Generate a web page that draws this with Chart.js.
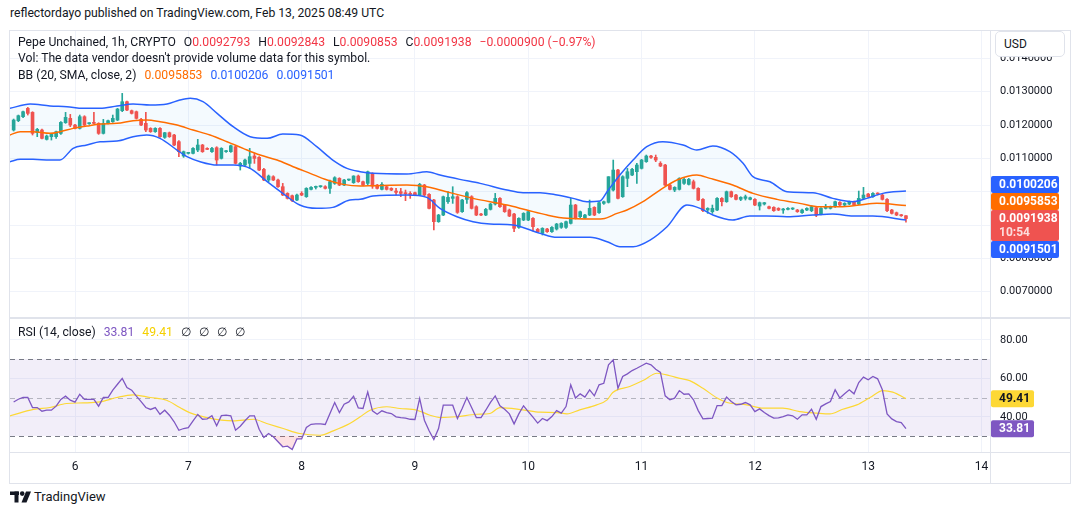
<!DOCTYPE html>
<html>
<head>
<meta charset="utf-8">
<script src="https://cdn.jsdelivr.net/npm/chart.js@4.4.1/dist/chart.umd.min.js"></script>
<style>
  html, body { margin: 0; padding: 0; background: #fff; }
  body { width: 1080px; height: 515px; position: relative; overflow: hidden;
         font-family: Roboto, "Noto Sans", sans-serif; color: #131722; }
  .abs { position: absolute; }
  .row { position: absolute; left: 18px; display: flex; gap: 8px; font-size: 12.2px; white-space: pre; line-height: 16px; }
  .red { color: #f23645; }
  .line { position: absolute; background: #e0e3eb; }
</style>
</head>
<body>

<div class="abs" style="left:0;top:30px;width:1080px;height:288px"><canvas id="price"></canvas></div>
<div class="abs" style="left:0;top:318px;width:1080px;height:165px"><canvas id="rsi"></canvas></div>

<!-- frame -->
<div class="line" style="left:9px;top:30px;width:1062px;height:1px"></div>
<div class="line" style="left:9px;top:30px;width:1px;height:453px"></div>
<div class="line" style="left:1070px;top:30px;width:1px;height:453px"></div>
<div class="line" style="left:9px;top:483px;width:1062px;height:1px"></div>
<div class="line" style="left:9px;top:317px;width:1062px;height:2px"></div>
<div class="line" style="left:9px;top:452px;width:1062px;height:1px"></div>
<div class="line" style="left:990px;top:30px;width:1px;height:453px"></div>

<div class="abs" style="left:10px;top:6px;font-size:12.2px">reflectordayo published on TradingView.com, Feb 13, 2025 08:49 UTC</div>

<div class="row" style="top:34px">
  <span>Pepe Unchained, 1h, CRYPTO</span>
  <span>O<span class="red">0.0092793</span></span>
  <span>H<span class="red">0.0092843</span></span>
  <span>L<span class="red">0.0090853</span></span>
  <span>C<span class="red">0.0091938</span></span>
  <span class="red">−0.0000900 (−0.97%)</span>
</div>
<div class="row" style="top:50px"><span>Vol: The data vendor doesn't provide volume data for this symbol.</span></div>
<div class="row" style="top:67px">
  <span>BB (20, SMA, close, 2)</span>
  <span style="color:#ff6d00">0.0095853</span>
  <span style="color:#2962ff">0.0100206</span>
  <span style="color:#2962ff">0.0091501</span>
</div>
<div class="row" style="top:324px">
  <span>RSI (14, close)</span>
  <span style="color:#7e57c2">33.81</span>
  <span style="color:#f5d000">49.41</span>
  <span>∅</span><span>∅</span><span>∅</span><span>∅</span>
</div>

<div class="abs" style="left:995px;top:31px;width:70px;height:26px;border:1px solid #e0e3eb;border-radius:5px;background:#fff;box-sizing:border-box;font-size:12px;line-height:24px;padding-left:8px">USD</div>

<div class="abs" style="left:10px;top:489px;display:flex;align-items:center;gap:3px">
  <svg width="21" height="12" viewBox="0 0 21 12">
    <rect x="0" y="0.5" width="9" height="3.5" fill="#131722"/>
    <rect x="4.5" y="0.5" width="4" height="11" fill="#131722"/>
    <circle cx="12.2" cy="2.6" r="2.3" fill="#131722"/>
    <polygon points="16,0.5 21,0.5 16.5,11.5 11.5,11.5" fill="#131722"/>
  </svg>
  <span style="font-size:13px">TradingView</span>
</div>

<script>
// one candle per hour, hours counted from Feb 6 00:00
const firstHour = -13;

const open = [
  0.01185, 0.01213, 0.01225, 0.01250, 0.01238, 0.01177, 0.01185, 0.01157, 0.01165, 0.01165,
  0.01175, 0.01207, 0.01220, 0.01200, 0.01190, 0.01225, 0.01204, 0.01207, 0.01205, 0.01175,
  0.01205, 0.01210, 0.01215, 0.01243, 0.01270, 0.01243, 0.01240, 0.01217, 0.01205, 0.01190,
  0.01180, 0.01190, 0.01163, 0.01177, 0.01170, 0.01150, 0.01107, 0.01115, 0.01115, 0.01125,
  0.01140, 0.01130, 0.01120, 0.01132, 0.01100, 0.01120, 0.01120, 0.01135, 0.01077, 0.01080,
  0.01085, 0.01107, 0.01103, 0.01067, 0.01035, 0.01045, 0.01035, 0.01015, 0.00995, 0.00988,
  0.00975, 0.00995, 0.00985, 0.01007, 0.01013, 0.01015, 0.01015, 0.01010, 0.01025, 0.01040,
  0.01020, 0.01035, 0.01027, 0.01047, 0.01030, 0.01025, 0.01055, 0.01020, 0.01007, 0.01015,
  0.01010, 0.01002, 0.01000, 0.00996, 0.00995, 0.00997, 0.00990, 0.01020, 0.00992, 0.00975,
  0.00910, 0.00930, 0.00970, 0.00980, 0.00985, 0.00940, 0.00977, 0.00985, 0.00955, 0.00933,
  0.00930, 0.00947, 0.00963, 0.00980, 0.00960, 0.00945, 0.00933, 0.00893, 0.00915, 0.00915,
  0.00920, 0.00887, 0.00875, 0.00888, 0.00880, 0.00888, 0.00893, 0.00893, 0.00905, 0.00960,
  0.00925, 0.00922, 0.00930, 0.00953, 0.00937, 0.00965, 0.00968, 0.01005, 0.01065, 0.00985,
  0.01040, 0.01050, 0.01060, 0.01070, 0.01090, 0.01107, 0.01103, 0.01085, 0.01080, 0.01020,
  0.01005, 0.01007, 0.01025, 0.01022, 0.01030, 0.01010, 0.00977, 0.00945, 0.00940, 0.00945,
  0.00980, 0.00970, 0.01000, 0.00990, 0.00977, 0.00980, 0.00977, 0.00977, 0.00957, 0.00963,
  0.00955, 0.00953, 0.00950, 0.00945, 0.00947, 0.00948, 0.00945, 0.00937, 0.00945, 0.00943,
  0.00952, 0.00933, 0.00950, 0.00950, 0.00955, 0.00968, 0.00960, 0.00963, 0.00970, 0.00963,
  0.00980, 0.00993, 0.00985, 0.00995, 0.00990, 0.00977, 0.00945, 0.00937, 0.00930, 0.0092793
];
const high = [
  0.01218, 0.01230, 0.01242, 0.01253, 0.01240, 0.01190, 0.01188, 0.01170, 0.01175, 0.01182,
  0.01210, 0.01238, 0.01232, 0.01202, 0.01230, 0.01228, 0.01207, 0.01238, 0.01207, 0.01217,
  0.01215, 0.01230, 0.01250, 0.01295, 0.01272, 0.01245, 0.01242, 0.01220, 0.01238, 0.01192,
  0.01192, 0.01192, 0.01178, 0.01179, 0.01172, 0.01153, 0.01122, 0.01118, 0.01132, 0.01157,
  0.01142, 0.01132, 0.01133, 0.01135, 0.01132, 0.01124, 0.01140, 0.01137, 0.01088, 0.01098,
  0.01130, 0.01115, 0.01105, 0.01070, 0.01050, 0.01048, 0.01038, 0.01025, 0.00997, 0.00990,
  0.00993, 0.01000, 0.01012, 0.01015, 0.01017, 0.01018, 0.01018, 0.01035, 0.01045, 0.01042,
  0.01037, 0.01038, 0.01048, 0.01050, 0.01032, 0.01062, 0.01057, 0.01022, 0.01027, 0.01017,
  0.01012, 0.01010, 0.01010, 0.01005, 0.01000, 0.00999, 0.01025, 0.01022, 0.00994, 0.00977,
  0.00932, 0.00987, 0.01000, 0.01015, 0.00988, 0.00977, 0.01000, 0.00988, 0.00958, 0.00935,
  0.00950, 0.00965, 0.00995, 0.00982, 0.00962, 0.00948, 0.00935, 0.00922, 0.00937, 0.00942,
  0.00922, 0.00890, 0.00892, 0.00890, 0.00895, 0.00905, 0.00907, 0.00912, 0.00980, 0.00962,
  0.00942, 0.00932, 0.00975, 0.00955, 0.00970, 0.00972, 0.01045, 0.01095, 0.01067, 0.01048,
  0.01070, 0.01070, 0.01085, 0.01097, 0.01110, 0.01109, 0.01110, 0.01090, 0.01082, 0.01022,
  0.01015, 0.01042, 0.01040, 0.01040, 0.01035, 0.01012, 0.00979, 0.00952, 0.00960, 0.00982,
  0.00982, 0.01002, 0.01002, 0.00992, 0.00985, 0.00990, 0.00984, 0.00979, 0.00969, 0.00968,
  0.00957, 0.00955, 0.00952, 0.00950, 0.00952, 0.00952, 0.00947, 0.00948, 0.00952, 0.00958,
  0.00954, 0.00952, 0.00962, 0.00957, 0.00972, 0.00970, 0.00967, 0.00972, 0.00972, 0.01002,
  0.01013, 0.00995, 0.00997, 0.00997, 0.00992, 0.00979, 0.00947, 0.00939, 0.00932, 0.0092843
];
const low = [
  0.01182, 0.01210, 0.01222, 0.01230, 0.01170, 0.01165, 0.01158, 0.01155, 0.01155, 0.01160,
  0.01172, 0.01205, 0.01195, 0.01188, 0.01188, 0.01198, 0.01202, 0.01203, 0.01172, 0.01173,
  0.01203, 0.01208, 0.01213, 0.01240, 0.01243, 0.01233, 0.01218, 0.01198, 0.01180, 0.01178,
  0.01178, 0.01163, 0.01160, 0.01163, 0.01138, 0.01105, 0.01103, 0.01113, 0.01113, 0.01120,
  0.01118, 0.01126, 0.01118, 0.01080, 0.01098, 0.01118, 0.01118, 0.01083, 0.01065, 0.01078,
  0.01070, 0.01085, 0.01063, 0.01033, 0.01030, 0.01033, 0.01013, 0.00988, 0.00978, 0.00970,
  0.00973, 0.00988, 0.00983, 0.01005, 0.01008, 0.01013, 0.01008, 0.00995, 0.01022, 0.01018,
  0.01018, 0.01033, 0.01025, 0.01028, 0.01018, 0.01020, 0.01010, 0.01008, 0.01005, 0.01005,
  0.01003, 0.00990, 0.00985, 0.00973, 0.00980, 0.00988, 0.00988, 0.00988, 0.00948, 0.00885,
  0.00908, 0.00928, 0.00965, 0.00965, 0.00935, 0.00938, 0.00965, 0.00948, 0.00928, 0.00928,
  0.00928, 0.00945, 0.00960, 0.00953, 0.00938, 0.00925, 0.00880, 0.00890, 0.00913, 0.00913,
  0.00882, 0.00878, 0.00870, 0.00878, 0.00878, 0.00885, 0.00890, 0.00890, 0.00903, 0.00918,
  0.00922, 0.00920, 0.00928, 0.00928, 0.00935, 0.00962, 0.00966, 0.01002, 0.00978, 0.00983,
  0.01015, 0.01048, 0.01025, 0.01068, 0.01088, 0.01100, 0.01090, 0.01075, 0.01018, 0.01005,
  0.01000, 0.01005, 0.01022, 0.01020, 0.01008, 0.00973, 0.00940, 0.00935, 0.00935, 0.00943,
  0.00957, 0.00968, 0.00983, 0.00975, 0.00973, 0.00975, 0.00975, 0.00958, 0.00945, 0.00960,
  0.00948, 0.00941, 0.00943, 0.00935, 0.00945, 0.00946, 0.00938, 0.00935, 0.00943, 0.00940,
  0.00925, 0.00930, 0.00948, 0.00948, 0.00953, 0.00958, 0.00958, 0.00961, 0.00958, 0.00961,
  0.00978, 0.00983, 0.00983, 0.00990, 0.00975, 0.00940, 0.00933, 0.00928, 0.00926, 0.0090853
];
const close = [
  0.01215, 0.01228, 0.01240, 0.01235, 0.01175, 0.01187, 0.01160, 0.01167, 0.01172, 0.01180,
  0.01208, 0.01223, 0.01200, 0.01190, 0.01225, 0.01200, 0.01205, 0.01205, 0.01175, 0.01205,
  0.01213, 0.01220, 0.01248, 0.01270, 0.01245, 0.01235, 0.01220, 0.01200, 0.01185, 0.01180,
  0.01190, 0.01165, 0.01177, 0.01165, 0.01140, 0.01120, 0.01120, 0.01117, 0.01130, 0.01140,
  0.01120, 0.01127, 0.01130, 0.01095, 0.01130, 0.01122, 0.01138, 0.01085, 0.01085, 0.01095,
  0.01105, 0.01100, 0.01065, 0.01035, 0.01047, 0.01035, 0.01015, 0.00990, 0.00980, 0.00973,
  0.00990, 0.00990, 0.01010, 0.01013, 0.01015, 0.01017, 0.01010, 0.01030, 0.01042, 0.01020,
  0.01035, 0.01037, 0.01047, 0.01030, 0.01020, 0.01060, 0.01017, 0.01010, 0.01022, 0.01007,
  0.01005, 0.00998, 0.00995, 0.00994, 0.00992, 0.00990, 0.01022, 0.00990, 0.00950, 0.00910,
  0.00930, 0.00985, 0.00983, 0.00985, 0.00938, 0.00975, 0.00997, 0.00950, 0.00930, 0.00930,
  0.00947, 0.00963, 0.00980, 0.00955, 0.00940, 0.00927, 0.00890, 0.00920, 0.00935, 0.00940,
  0.00895, 0.00880, 0.00890, 0.00880, 0.00893, 0.00903, 0.00905, 0.00910, 0.00960, 0.00920,
  0.00940, 0.00930, 0.00950, 0.00930, 0.00967, 0.00970, 0.01045, 0.01065, 0.00980, 0.01045,
  0.01060, 0.01067, 0.01080, 0.01095, 0.01107, 0.01103, 0.01095, 0.01077, 0.01020, 0.01007,
  0.01013, 0.01040, 0.01037, 0.01037, 0.01010, 0.00975, 0.00943, 0.00950, 0.00950, 0.00980,
  0.00970, 0.01000, 0.00985, 0.00977, 0.00983, 0.00985, 0.00982, 0.00960, 0.00967, 0.00967,
  0.00950, 0.00943, 0.00945, 0.00947, 0.00950, 0.00950, 0.00940, 0.00945, 0.00950, 0.00955,
  0.00930, 0.00950, 0.00955, 0.00955, 0.00970, 0.00960, 0.00965, 0.00970, 0.00960, 0.00980,
  0.00990, 0.00985, 0.00995, 0.00993, 0.00977, 0.00943, 0.00935, 0.00930, 0.0092793, 0.0091938
];

// Bollinger bands, read at the hours where they bend
const upperHours = [-13.8, -9.5, -5.3, -1.7, 1.7, 5.3, 8.9, 12.3, 15.9, 19.5, 22.2, 24.4, 27.1, 30.1, 33.5, 37.1, 40.7, 44, 47.6, 51.2, 54.6, 57.6, 60.4, 63.1, 70.3, 74.5, 77.3, 81.5, 85.8, 91.5, 94.9, 98.5, 102.1, 105.5, 108.4, 111.2, 112.7, 115.4, 118.2, 121.1, 124.5, 128.8, 131.7, 135.1, 138.7, 141.5, 143.6, 147.2, 150.8, 156.3, 160.5, 164.8, 167.7, 171.1, 176];
const upperBand = [0.0125, 0.01263, 0.01257, 0.01255, 0.0125, 0.0125, 0.01257, 0.01263, 0.0126, 0.01263, 0.01275, 0.0128, 0.0127, 0.01235, 0.01195, 0.01165, 0.0116, 0.01173, 0.0117, 0.01135, 0.01095, 0.0107, 0.0106, 0.01055, 0.01053, 0.0106, 0.0105, 0.01037, 0.01025, 0.01005, 0.00997, 0.00997, 0.0099, 0.0098, 0.0097, 0.00972, 0.01, 0.0105, 0.01095, 0.01135, 0.0115, 0.0114, 0.01125, 0.01137, 0.0112, 0.01085, 0.01045, 0.0103, 0.01, 0.00997, 0.0098, 0.0097, 0.0098, 0.00995, 0.0100206];
const midHours = [-13.8, -11.6, -8.9, -5.3, -3.2, -0.4, 2.5, 5.3, 8.9, 12.3, 15.2, 18, 21.6, 25, 28.6, 32.2, 35.6, 39.2, 42.8, 46.2, 49.8, 53.4, 56.8, 60.4, 63.1, 70.3, 74.5, 77.3, 84.3, 91.5, 95.7, 100, 104.2, 109.1, 111.8, 114.8, 116.9, 120.3, 123.9, 127.5, 131.7, 134.5, 139.3, 143.6, 148.7, 153.5, 157.8, 162, 166.2, 169.8, 176];
const midBand = [0.0117, 0.0118, 0.0118, 0.01175, 0.0118, 0.0119, 0.01197, 0.01203, 0.01205, 0.01213, 0.01215, 0.0121, 0.012, 0.01185, 0.0117, 0.0115, 0.0113, 0.0111, 0.01095, 0.01075, 0.01055, 0.01035, 0.01022, 0.01017, 0.01018, 0.0102, 0.01015, 0.01005, 0.0098, 0.0096, 0.00945, 0.0093, 0.0092, 0.00918, 0.00919, 0.00935, 0.00945, 0.0097, 0.01005, 0.01035, 0.0105, 0.0104, 0.0102, 0.00995, 0.00977, 0.00965, 0.00955, 0.00955, 0.0096, 0.00965, 0.0095853];
const lowerHours = [-13.8, -11.6, -8.9, -5.3, -3.2, -0.4, 2.5, 5.3, 8.9, 12.3, 15.2, 18, 21.6, 23.7, 26.5, 30.1, 33.5, 37.1, 40.7, 44, 47.6, 51.2, 54.6, 58.2, 60.4, 63.1, 70.3, 74.5, 77.3, 80.9, 84.3, 87.9, 92.8, 98.5, 102.1, 109.1, 112.7, 115.4, 118.2, 121.8, 125.4, 129.6, 132.4, 135.1, 139.3, 142.9, 146.5, 150.8, 156.3, 160.5, 164.8, 169, 176];
const lowerBand = [0.0109, 0.01097, 0.01097, 0.01095, 0.01095, 0.0113, 0.0114, 0.0115, 0.01152, 0.01165, 0.0117, 0.0116, 0.01125, 0.01105, 0.0109, 0.0108, 0.0108, 0.0107, 0.0103, 0.00995, 0.0096, 0.0095, 0.00953, 0.00975, 0.00977, 0.00987, 0.0099, 0.00983, 0.0095, 0.00925, 0.0091, 0.00903, 0.009, 0.00875, 0.00863, 0.00863, 0.0085, 0.00835, 0.00835, 0.00855, 0.00895, 0.0096, 0.0095, 0.0093, 0.00915, 0.00927, 0.00927, 0.00925, 0.0093, 0.00933, 0.00927, 0.00927, 0.0091501];

// RSI (14), one value per candle
const rsi = [
  47.7, 49.1, 50.0, 50.0, 44.8, 44.8, 42.9, 43.4, 43.4, 45.5,
  49.0, 50.7, 48.6, 47.6, 51.7, 49.0, 49.0, 49.0, 45.5, 50.0,
  50.0, 53.8, 56.9, 59.9, 55.2, 53.8, 50.7, 47.9, 44.8, 43.8,
  44.8, 41.3, 43.4, 40.8, 37.4, 33.0, 33.9, 34.4, 37.9, 41.2,
  38.7, 38.9, 40.5, 35.3, 40.6, 40.8, 40.5, 33.0, 35.1, 37.9,
  40.5, 40.5, 33.5, 29.2, 31.3, 29.6, 27.0, 24.4, 24.7, 23.0,
  28.5, 28.5, 34.4, 36.1, 36.3, 36.3, 36.0, 41.7, 47.4, 42.2,
  46.5, 47.7, 50.7, 44.6, 44.3, 52.9, 43.1, 41.3, 43.1, 42.2,
  41.7, 40.0, 39.6, 39.3, 38.7, 38.6, 49.5, 38.2, 32.7, 28.2,
  33.9, 46.0, 46.0, 46.0, 39.1, 44.3, 50.0, 44.8, 39.6, 39.6,
  43.4, 47.5, 50.8, 45.7, 43.9, 41.5, 36.3, 41.5, 45.7, 42.7,
  39.8, 36.7, 39.1, 38.0, 40.1, 43.2, 41.9, 45.3, 56.6, 49.7,
  51.9, 50.2, 54.0, 50.9, 56.6, 57.4, 67.0, 69.6, 54.8, 60.9,
  62.3, 64.0, 65.2, 66.5, 67.8, 67.0, 64.7, 63.0, 50.9, 48.8,
  49.7, 53.6, 51.7, 51.9, 48.8, 43.2, 38.9, 39.1, 39.3, 45.8,
  45.8, 50.2, 47.9, 46.2, 46.5, 47.4, 46.2, 42.7, 44.1, 42.2,
  40.6, 39.3, 39.4, 40.1, 41.0, 40.5, 38.7, 41.0, 41.0, 43.9,
  38.7, 45.3, 46.7, 47.9, 54.0, 49.7, 51.9, 54.0, 51.9, 57.8,
  60.6, 59.2, 60.9, 59.7, 54.0, 41.5, 38.9, 37.5, 37.0, 33.81
];
// RSI moving average (yellow), read at the hours where it bends
const rsiMaHours = [-13.8, -8.8, -5.3, -1.8, 1.8, 5.3, 8.8, 12.3, 15.9, 19.4, 22.2, 24.4, 27.9, 33.5, 37.8, 40.6, 44.1, 47.6, 51.9, 54.7, 58.2, 60.4, 62.5, 66, 68.8, 72.4, 75.2, 77.3, 80.8, 85.1, 87.9, 90, 94.9, 98.5, 102.1, 104.2, 106.9, 110.5, 112.7, 113.9, 117.5, 120.3, 123.3, 126, 128.1, 130.2, 133, 136, 138.1, 142.3, 145.7, 149.9, 153.5, 157.1, 159.9, 162.6, 165.6, 168.4, 171.1, 173.2, 176];
const rsiMa = [40.5, 43.8, 44.8, 46.9, 47.2, 47.7, 50.0, 51.4, 50.0, 48.6, 44.8, 42.0, 39.6, 37.9, 38.7, 36.5, 33.9, 31.3, 30.4, 32.7, 36.5, 40.0, 43.4, 45.2, 44.3, 43.4, 40.8, 39.6, 40.0, 41.3, 41.7, 44.8, 43.6, 42.4, 42.2, 41.5, 43.6, 46.2, 48.8, 52.6, 55.7, 58.8, 62.6, 61.3, 59.9, 58.8, 54.8, 49.7, 47.4, 46.2, 44.5, 44.5, 42.7, 41.9, 41.5, 43.9, 46.2, 50.0, 53.6, 52.8, 49.41];

const dayTicks = [0, 24, 48, 72, 96, 120, 144, 168, 192];
const dayLabels = ['6', '7', '8', '9', '10', '11', '12', '13', '14'];
const priceTicks = [0.007, 0.008, 0.009, 0.010, 0.011, 0.012, 0.013, 0.014];
const rsiTicks = [40, 60, 80];
const rsiLevels = [70, 50, 30];

const GREEN = '#26a69a', RED = '#ef5350', BLUE = '#2962ff', ORANGE = '#ff6d00';
const PURPLE = '#7e57c2', YELLOW = '#fdd835', GRID = '#f0f3fa';
const X_MIN = -13.77, X_MAX = 193.8;

Chart.defaults.font.family = 'Roboto, "Noto Sans", sans-serif';
Chart.defaults.color = '#131722';

const hours = open.map((_, i) => firstHour + i);
const candleColors = open.map((o, i) => close[i] >= o ? GREEN : RED);
const pts = (xs, ys) => xs.map((x, i) => ({ x: x, y: ys[i] }));

// keep the axis from shrinking the plot area for its labels
const rightAxisFit = s => { s.width = 90; s.paddingTop = 0; s.paddingBottom = 0; };

function drawTag(ctx, top, h, bg, fg, lines, x, w) {
  ctx.fillStyle = bg;
  ctx.beginPath();
  ctx.roundRect(x, top, w, h, 2);
  ctx.fill();
  ctx.font = 'bold 12px Roboto, sans-serif';
  ctx.textBaseline = 'middle';
  ctx.textAlign = 'left';
  lines.forEach((t, k) => {
    ctx.fillStyle = k === 0 ? fg : 'rgba(255,255,255,0.8)';
    ctx.fillText(t, x + 8, top + 8.5 + k * 14);
  });
}

// last-value tags on the price axis, stacked around the close tag
const priceTags = {
  id: 'priceTags',
  afterDraw(chart) {
    const { ctx } = chart;
    const ys = chart.scales.y;
    const last = close.length - 1;
    const H = 17;
    const closeTop = ys.getPixelForValue(close[last]) - 8.5;
    const above = [
      { v: midBand[midBand.length - 1], bg: ORANGE },
      { v: upperBand[upperBand.length - 1], bg: BLUE }
    ];
    const below = [{ v: lowerBand[lowerBand.length - 1], bg: BLUE }];
    ctx.save();
    let edge = closeTop;
    above.forEach(t => {
      const top = Math.min(ys.getPixelForValue(t.v) - H / 2, edge - H);
      drawTag(ctx, top, H, t.bg, '#fff', [t.v.toFixed(7)], 991, 68);
      edge = top;
    });
    edge = closeTop + 31;
    below.forEach(t => {
      const top = Math.max(ys.getPixelForValue(t.v) - H / 2, edge);
      drawTag(ctx, top, H, t.bg, '#fff', [t.v.toFixed(7)], 991, 68);
      edge = top + H;
    });
    drawTag(ctx, closeTop, 31, RED, '#fff', [close[last].toFixed(7), '10:54'], 991, 68);
    ctx.restore();
  }
};

new Chart(document.getElementById('price'), {
  type: 'line',
  data: {
    datasets: [
      { type: 'line', data: pts(upperHours, upperBand), borderColor: BLUE, borderWidth: 1.5,
        pointRadius: 0, cubicInterpolationMode: 'monotone', fill: '+2', backgroundColor: 'rgba(33,150,243,0.05)' },
      { type: 'line', data: pts(midHours, midBand), borderColor: ORANGE, borderWidth: 1.5,
        pointRadius: 0, cubicInterpolationMode: 'monotone', fill: false },
      { type: 'line', data: pts(lowerHours, lowerBand), borderColor: BLUE, borderWidth: 1.5,
        pointRadius: 0, cubicInterpolationMode: 'monotone', fill: false },
      { type: 'bar', data: hours.map((h, i) => ({ x: h, y: [open[i], close[i]] })),
        backgroundColor: candleColors, barThickness: 3, minBarLength: 1, grouped: false, borderWidth: 0 },
      { type: 'bar', data: hours.map((h, i) => ({ x: h, y: [low[i], high[i]] })),
        backgroundColor: candleColors, barThickness: 1, minBarLength: 1, grouped: false, borderWidth: 0 }
    ]
  },
  options: {
    responsive: true, maintainAspectRatio: false, animation: false, events: [],
    layout: { padding: { left: 10, right: 0, top: 0, bottom: 0 }, autoPadding: false },
    plugins: { legend: { display: false }, tooltip: { enabled: false }, filler: { drawTime: 'beforeDatasetsDraw' } },
    scales: {
      x: {
        type: 'linear', min: X_MIN, max: X_MAX, offset: false,
        grid: { color: GRID, drawTicks: false, offset: false }, border: { display: false },
        ticks: { display: false },
        afterBuildTicks: s => { s.ticks = dayTicks.map(v => ({ value: v })); },
        afterFit: s => { s.height = 0; s.paddingLeft = 0; s.paddingRight = 0; }
      },
      y: {
        position: 'right', min: 0.006211, max: 0.014851,
        grid: { color: GRID, drawTicks: false }, border: { display: false },
        ticks: { padding: 10, font: { size: 11 }, callback: v => v.toFixed(7) },
        afterBuildTicks: s => { s.ticks = priceTicks.map(v => ({ value: v })); },
        afterFit: rightAxisFit
      }
    }
  },
  plugins: [priceTags]
});

// RSI pane: 30-70 band, dashed levels, last-value tags
const rsiDecor = {
  id: 'rsiDecor',
  beforeDatasetsDraw(chart) {
    const { ctx, chartArea: a } = chart;
    const ys = chart.scales.y;
    const y70 = ys.getPixelForValue(70), y30 = ys.getPixelForValue(30);
    ctx.save();
    ctx.fillStyle = 'rgba(126,87,194,0.1)';
    ctx.fillRect(a.left, y70, a.right - a.left, y30 - y70);
    ctx.setLineDash([5, 4]);
    ctx.lineWidth = 1;
    rsiLevels.forEach(l => {
      const y = Math.round(ys.getPixelForValue(l)) + 0.5;
      ctx.strokeStyle = l === 50 ? 'rgba(120,123,134,0.5)' : '#787b86';
      ctx.beginPath(); ctx.moveTo(a.left, y); ctx.lineTo(a.right, y); ctx.stroke();
    });
    ctx.restore();
  },
  afterDraw(chart) {
    const { ctx } = chart;
    const ys = chart.scales.y;
    ctx.save();
    const vMa = rsiMa[rsiMa.length - 1], vR = rsi[rsi.length - 1];
    drawTag(ctx, ys.getPixelForValue(vMa) - 8.5, 17, YELLOW, '#131722', [vMa.toFixed(2)], 991, 43);
    drawTag(ctx, ys.getPixelForValue(vR) - 8.5, 17, PURPLE, '#fff', [vR.toFixed(2)], 991, 43);
    ctx.restore();
  }
};

new Chart(document.getElementById('rsi'), {
  type: 'line',
  data: {
    datasets: [
      { data: hours.map((h, i) => ({ x: h, y: rsi[i] })), borderColor: PURPLE, borderWidth: 1.3,
        pointRadius: 0, tension: 0,
        fill: { target: { value: 30 }, above: 'rgba(0,0,0,0)', below: 'rgba(242,54,69,0.15)' } },
      { data: pts(rsiMaHours, rsiMa), borderColor: YELLOW, borderWidth: 1.2, pointRadius: 0,
        cubicInterpolationMode: 'monotone', fill: false }
    ]
  },
  options: {
    responsive: true, maintainAspectRatio: false, animation: false, events: [],
    layout: { padding: { left: 10, right: 0, top: 0, bottom: 0 }, autoPadding: false },
    plugins: { legend: { display: false }, tooltip: { enabled: false } },
    scales: {
      x: {
        type: 'linear', min: X_MIN, max: X_MAX,
        grid: { color: GRID, drawTicks: false }, border: { display: false },
        ticks: { padding: 8, font: { size: 12 }, maxRotation: 0, autoSkip: false,
                 callback: (v, i) => dayLabels[i] },
        afterBuildTicks: s => { s.ticks = dayTicks.map(v => ({ value: v })); },
        afterFit: s => { s.height = 31; s.paddingLeft = 0; s.paddingRight = 0; }
      },
      y: {
        position: 'right', min: 21.7, max: 91.3,
        grid: { color: GRID, drawTicks: false }, border: { display: false },
        ticks: { padding: 10, font: { size: 11 }, callback: v => v.toFixed(2) },
        afterBuildTicks: s => { s.ticks = rsiTicks.map(v => ({ value: v })); },
        afterFit: rightAxisFit
      }
    }
  },
  plugins: [rsiDecor]
});
</script>
</body>
</html>
